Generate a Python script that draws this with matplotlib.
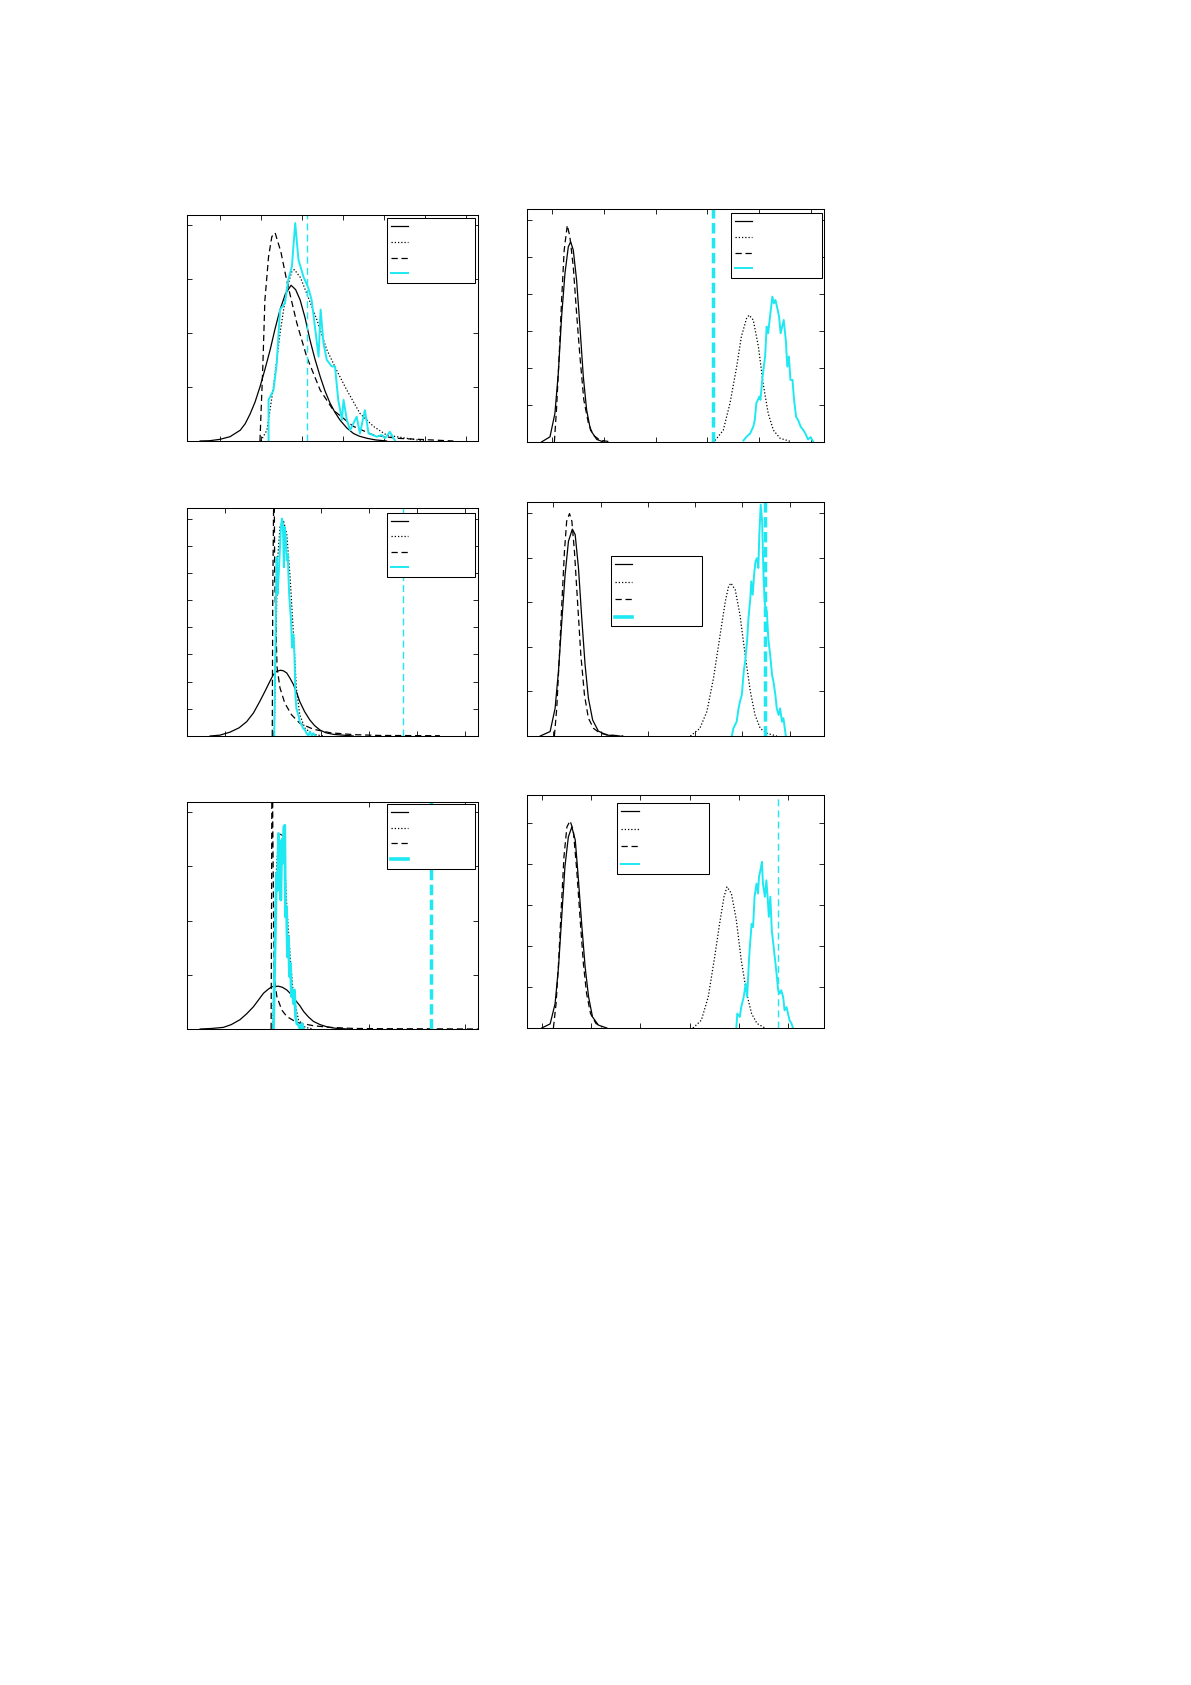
import numpy as np
import matplotlib.pyplot as plt
from matplotlib.lines import Line2D

CYAN = '#1ee8f2'

# ---- panel A (top left)
a_solid = [(-0.48, 0), (-0.25, 0.005), (0.0, 0.03), (0.25, 0.08), (0.5, 0.2), (0.62, 0.32), (0.74, 0.5),
           (0.86, 0.72), (0.98, 1.0), (1.1, 1.32), (1.23, 1.69), (1.35, 2.08), (1.47, 2.43), (1.6, 2.72),
           (1.74, 2.88), (1.85, 2.8), (1.96, 2.61), (2.08, 2.28), (2.2, 1.87), (2.32, 1.52), (2.45, 1.19),
           (2.57, 0.92), (2.69, 0.70), (2.81, 0.53), (2.93, 0.39), (3.1, 0.24), (3.26, 0.14), (3.4, 0.09),
           (3.59, 0.05), (3.8, 0.02), (4.07, 0.0)]
a_dotted = [(1.0, 0.0), (1.15, 0.2), (1.31, 1.0), (1.47, 1.99), (1.63, 2.8), (1.76, 3.14), (1.82, 3.17),
            (1.97, 3.02), (2.12, 2.73), (2.37, 2.24), (2.61, 1.69), (2.85, 1.31), (3.1, 0.94), (3.42, 0.51),
            (3.75, 0.27), (4.07, 0.11), (4.72, 0.03), (5.0, 0.0)]
a_dashed = [(0.98, 0), (1.05, 1.38), (1.1, 2.6), (1.19, 3.41), (1.27, 3.78), (1.35, 3.85), (1.49, 3.5),
            (1.63, 2.98), (1.88, 2.18), (2.12, 1.56), (2.45, 0.94), (2.77, 0.57), (3.26, 0.27), (3.75, 0.11),
            (4.32, 0.05), (5.7, 0.0)]
a_cyan = [(1.19, 0.0), (1.19, 0.76), (1.31, 0.94), (1.39, 1.44), (1.47, 2.43), (1.59, 2.55), (1.67, 2.98),
          (1.76, 3.23), (1.84, 4.03), (1.92, 3.35), (2.04, 3.04), (2.16, 2.83), (2.24, 2.61), (2.33, 2.06),
          (2.41, 1.56), (2.46, 2.43), (2.53, 1.81), (2.61, 1.5), (2.73, 1.38), (2.81, 1.38), (2.89, 0.76),
          (2.98, 0.39), (3.02, 0.76), (3.1, 0.39), (3.18, 0.2), (3.34, 0.45), (3.42, 0.14), (3.54, 0.57),
          (3.63, 0.14), (3.83, 0.08), (3.95, 0.11), (4.03, 0.05), (4.15, 0.17), (4.28, 0.0)]

# ---- panel B (top right)
b_solid = [(-0.21, 0), (-0.045, 0.14), (0.05, 0.77), (0.116, 1.86), (0.18, 3.39), (0.245, 4.56),
           (0.31, 5.28), (0.355, 5.41), (0.406, 5.19), (0.47, 4.38), (0.535, 3.12), (0.6, 1.77),
           (0.665, 0.86), (0.74, 0.32), (0.86, 0.07), (0.99, 0.0)]
b_dotted = [(3.15, 0.04), (3.31, 0.32), (3.44, 1.05), (3.57, 2.04), (3.66, 2.85), (3.76, 3.34),
            (3.81, 3.43), (3.89, 3.3), (3.99, 2.58), (4.08, 1.59), (4.18, 0.77), (4.28, 0.32),
            (4.41, 0.1), (4.6, 0.02)]
b_dashed = [(0.04, 0), (0.084, 0.95), (0.135, 2.4), (0.18, 3.84), (0.23, 5.19), (0.29, 5.86),
            (0.34, 5.55), (0.406, 4.74), (0.47, 3.48), (0.535, 2.31), (0.61, 1.14), (0.7, 0.5),
            (0.79, 0.19), (0.92, 0.05), (1.15, 0.0)]
b_cyan = [(3.7, 0.04), (3.76, 0.14), (3.83, 0.23), (3.89, 0.41), (3.92, 0.59), (3.95, 1.05), (4.01, 1.23),
          (4.03, 1.14), (4.07, 1.77), (4.12, 2.31), (4.15, 3.12), (4.18, 2.94), (4.2, 3.21), (4.23, 3.57),
          (4.26, 3.93), (4.29, 3.75), (4.32, 3.84), (4.35, 3.66), (4.39, 3.39), (4.42, 2.94), (4.45, 3.12),
          (4.48, 3.3), (4.52, 2.76), (4.55, 2.04), (4.58, 2.31), (4.61, 1.68), (4.65, 1.68), (4.68, 1.14),
          (4.72, 0.68), (4.76, 0.59), (4.81, 0.41), (4.86, 0.32), (4.9, 0.23), (4.95, 0.07), (5.0, 0.13),
          (5.05, 0.01)]

# ---- panel C (middle left)
c_solid = [(-0.3, 0), (-0.1, 0.03), (0.11, 0.14), (0.3, 0.3), (0.46, 0.53), (0.6, 0.85), (0.73, 1.27),
           (0.84, 1.65), (0.94, 2.01), (1.01, 2.25), (1.08, 2.38), (1.16, 2.42), (1.22, 2.4), (1.29, 2.32),
           (1.36, 2.12), (1.43, 1.89), (1.5, 1.58), (1.56, 1.27), (1.66, 0.9), (1.77, 0.59), (1.87, 0.38),
           (1.98, 0.22), (2.1, 0.12), (2.26, 0.06), (2.67, 0.0)]
c_dotted = [(1.03, 0.01), (1.07, 3.99), (1.1, 6.46), (1.15, 7.69), (1.22, 7.94), (1.29, 7.44), (1.36, 5.84),
            (1.43, 3.74), (1.49, 1.77), (1.56, 0.78), (1.67, 0.28), (1.84, 0.06), (2.05, 0.0)]
c_dashed = [(0.99, 0), (1.0, 5.22), (1.02, 8.93), (1.025, 11.4), (1.04, 5.84), (1.07, 3.74), (1.09, 2.51),
            (1.15, 1.77), (1.25, 1.21), (1.39, 0.78), (1.56, 0.47), (1.84, 0.25), (2.19, 0.12),
            (2.67, 0.05), (3.22, 0.02), (4.47, 0.01)]
c_cyan = [(1.03, 0.01), (1.06, 3.99), (1.08, 6.58), (1.1, 5.22), (1.12, 5.84), (1.15, 6.95), (1.17, 7.69),
          (1.19, 8.0), (1.21, 7.81), (1.23, 6.21), (1.25, 7.69), (1.27, 7.32), (1.29, 6.46), (1.31, 6.7),
          (1.34, 5.22), (1.38, 4.23), (1.4, 3.25), (1.43, 3.74), (1.45, 3.0), (1.47, 1.52), (1.49, 1.02),
          (1.53, 0.78), (1.56, 0.53), (1.6, 0.41), (1.63, 0.28), (1.67, 0.22), (1.7, 0.1), (1.74, 0.01),
          (1.77, 0.16), (1.81, 0.01), (1.84, 0.1), (1.88, 0.01)]

# ---- panel D (middle right)
d_solid = [(-0.28, 0), (-0.07, 0.1), (0.035, 0.62), (0.106, 1.45), (0.177, 2.57), (0.247, 3.62),
           (0.318, 4.37), (0.40, 4.64), (0.46, 4.52), (0.53, 3.77), (0.6, 2.64), (0.67, 1.6), (0.74, 0.85),
           (0.83, 0.36), (0.95, 0.11), (1.13, 0.02), (1.41, 0.0)]
d_dotted = [(2.9, 0), (3.1, 0.17), (3.25, 0.55), (3.39, 1.3), (3.53, 2.27), (3.64, 3.02), (3.71, 3.36),
            (3.76, 3.43), (3.85, 3.28), (3.95, 2.72), (4.06, 1.82), (4.17, 1.0), (4.27, 0.47),
            (4.38, 0.17), (4.52, 0.06), (4.73, 0.0)]
d_dashed = [(0.02, 0), (0.07, 0.62), (0.127, 1.82), (0.18, 3.02), (0.233, 4.14), (0.28, 4.82), (0.34, 4.99),
            (0.39, 4.82), (0.445, 4.14), (0.51, 3.02), (0.58, 1.82), (0.657, 0.92), (0.74, 0.4),
            (0.85, 0.17), (0.99, 0.06), (1.2, 0.02), (1.48, 0.0)]
d_cyan = [(3.78, 0.01), (3.81, 0.17), (3.88, 0.32), (3.92, 0.62), (3.95, 0.77), (3.99, 0.92), (4.03, 1.45),
          (4.06, 1.67), (4.1, 2.12), (4.13, 2.64), (4.17, 3.09), (4.19, 3.47), (4.22, 3.17), (4.25, 3.62),
          (4.28, 3.92), (4.31, 3.99), (4.34, 3.77), (4.36, 4.52), (4.39, 5.19), (4.42, 4.82), (4.45, 3.54),
          (4.48, 2.94), (4.52, 2.79), (4.55, 2.19), (4.59, 1.82), (4.63, 1.37), (4.66, 1.22), (4.7, 0.92),
          (4.73, 0.62), (4.77, 0.47), (4.8, 0.62), (4.84, 0.32), (4.87, 0.4), (4.89, 0.25), (4.92, 0.01)]

# ---- panel E (bottom left)
e_solid = [(-0.74, 0), (-0.62, 0.01), (-0.5, 0.03), (-0.42, 0.08), (-0.33, 0.17), (-0.26, 0.28),
           (-0.19, 0.41), (-0.14, 0.53), (-0.086, 0.66), (-0.04, 0.73), (0.0, 0.78), (0.069, 0.79),
           (0.11, 0.77), (0.155, 0.72), (0.2, 0.64), (0.24, 0.54), (0.29, 0.43), (0.33, 0.32), (0.38, 0.22),
           (0.43, 0.14), (0.5, 0.08), (0.57, 0.04), (0.65, 0.015), (0.78, 0.0)]
e_dotted = [(0.01, 0), (0.028, 1.33), (0.045, 2.87), (0.069, 3.55), (0.103, 3.61), (0.131, 3.18),
            (0.155, 2.26), (0.19, 1.33), (0.224, 0.6), (0.276, 0.17), (0.345, 0.03), (0.431, 0.0)]
e_dashed = [(-0.007, 0), (-0.003, 1.95), (0.0, 4.19), (0.003, 8.1), (0.01, 3.79), (0.024, 0.97),
            (0.052, 0.6), (0.103, 0.35), (0.155, 0.23), (0.259, 0.12), (0.431, 0.06), (0.603, 0.03),
            (0.845, 0.01), (1.12, 0.006), (2.16, 0.0)]
e_cyan = [(0.017, 0), (0.028, 0.97), (0.038, 1.95), (0.048, 2.87), (0.059, 2.56), (0.069, 3.61),
          (0.079, 2.93), (0.086, 3.3), (0.093, 2.38), (0.103, 3.49), (0.114, 3.06), (0.124, 3.73),
          (0.134, 3.76), (0.141, 2.07), (0.152, 2.26), (0.162, 1.33), (0.172, 1.7), (0.183, 0.97),
          (0.193, 1.21), (0.203, 0.6), (0.214, 0.72), (0.224, 0.47), (0.234, 0.72), (0.245, 0.23),
          (0.259, 0.1), (0.276, 0.07), (0.293, 0), (0.31, 0.1), (0.328, 0)]

# ---- panel F (bottom right)
f_solid = [(0.0, 0), (0.17, 0.1), (0.27, 0.59), (0.34, 1.49), (0.405, 2.71), (0.47, 3.93), (0.54, 4.66),
           (0.61, 4.9), (0.68, 4.58), (0.74, 3.68), (0.81, 2.54), (0.88, 1.49), (0.95, 0.76), (1.03, 0.27),
           (1.15, 0.07), (1.32, 0.0)]
f_dotted = [(3.07, 0), (3.24, 0.19), (3.38, 0.76), (3.51, 1.73), (3.61, 2.54), (3.7, 3.2), (3.76, 3.44),
            (3.85, 3.28), (3.95, 2.63), (4.05, 1.65), (4.16, 0.84), (4.26, 0.35), (4.37, 0.11), (4.53, 0.0)]
f_dashed = [(0.236, 0), (0.29, 0.59), (0.34, 1.57), (0.39, 2.79), (0.45, 4.17), (0.51, 4.9), (0.574, 5.05),
            (0.64, 4.82), (0.71, 3.85), (0.78, 2.63), (0.845, 1.57), (0.91, 0.84), (0.99, 0.35),
            (1.1, 0.11), (1.22, 0.02)]
f_cyan = [(3.95, 0), (3.97, 0.35), (4.02, 0.27), (4.05, 0.51), (4.1, 0.76), (4.14, 1.08), (4.17, 0.76),
          (4.21, 1.73), (4.24, 2.22), (4.26, 2.54), (4.29, 2.46), (4.32, 3.2), (4.36, 3.52), (4.39, 3.28),
          (4.41, 3.68), (4.44, 3.85), (4.47, 4.05), (4.49, 3.52), (4.53, 3.2), (4.56, 3.6), (4.59, 3.11),
          (4.61, 2.71), (4.64, 3.2), (4.67, 2.38), (4.7, 2.06), (4.73, 1.73), (4.76, 1.41), (4.8, 0.92),
          (4.83, 0.84), (4.86, 0.92), (4.9, 0.76), (4.93, 0.43), (4.97, 0.51), (5.0, 0.35), (5.03, 0.19),
          (5.07, 0.11), (5.1, 0)]

vline_x = [2.13, 3.12, 3.71, 4.47, 1.645, 4.8]

panels = [(a_solid, a_dotted, a_dashed, a_cyan), (b_solid, b_dotted, b_dashed, b_cyan),
          (c_solid, c_dotted, c_dashed, c_cyan), (d_solid, d_dotted, d_dashed, d_cyan),
          (e_solid, e_dotted, e_dashed, e_cyan), (f_solid, f_dotted, f_dashed, f_cyan)]

# layout / style per panel
boxes = [(187, 215, 478, 441), (527, 209, 824, 442), (187, 508, 478, 736),
         (527, 502, 824, 736), (187, 802, 478, 1029), (527, 795, 824, 1028)]
xlims = [(-0.8, 6.3), (-0.49, 5.26), (-0.78, 5.26), (-0.56, 5.73), (-0.876, 2.13), (-0.3, 5.73)]
ylims = [4.18, 6.3, 8.39, 5.25, 4.19, 5.68]
n_xt = [7, 6, 6, 6, 3, 6]
vline_w = [1.0, 2.5, 1.0, 2.5, 2.5, 1.0]
cyan_w = [1.4, 1.4, 1.4, 1.4, 2.0, 1.4]
leg_cyan_w = [1.4, 1.4, 1.4, 2.6, 2.6, 1.4]
leg_pos = [(0.686, 0.985, 0.304), (0.686, 0.981, 0.306), (0.686, 0.979, 0.304),
           (0.282, 0.769, 0.306), (0.686, 0.990, 0.304), (0.304, 0.964, 0.308)]
leg_sp = [0.5, 0.5, 0.5, 0.68, 0.5, 0.68]

W, H = 1191, 1685
fig = plt.figure(figsize=(W / 100, H / 100), dpi=100)

for i, (solid, dotted, dashed, cyan) in enumerate(panels):
    l, t, r, b = boxes[i]
    ax = fig.add_axes([l / W, 1 - b / H, (r - l) / W, (b - t) / H])
    s = np.array(solid).T
    d = np.array(dotted).T
    k = np.array(dashed).T
    c = np.array(cyan).T
    ax.plot(s[0], s[1], color='k', lw=0.9)
    ax.plot(d[0], d[1], color='k', lw=0.9, linestyle=(0, (1, 1.6)))
    ax.plot(k[0], k[1], color='k', lw=0.9, linestyle=(0, (5, 3)))
    ax.plot(c[0], c[1], color=CYAN, lw=cyan_w[i])
    ax.axvline(vline_x[i], color=CYAN, lw=vline_w[i], linestyle=(0, (3, 1.3)) if vline_w[i] > 2 else (0, (5, 3)))
    ax.set_xlim(*xlims[i])
    ax.set_ylim(0, ylims[i])
    ax.set_xticks(range(n_xt[i]))
    ax.set_yticks(range(int(ylims[i]) + 1))
    ax.tick_params(direction='in', top=True, right=True, length=3.6, width=0.6,
                   labelbottom=False, labelleft=False)
    for sp in ax.spines.values():
        sp.set_linewidth(0.75)

    handles = [Line2D([], [], color='k', lw=0.9),
               Line2D([], [], color='k', lw=0.9, linestyle=(0, (1, 1.6))),
               Line2D([], [], color='k', lw=0.9, linestyle=(0, (5, 3))),
               Line2D([], [], color=CYAN, lw=leg_cyan_w[i])]
    x0, ytop, w = leg_pos[i]
    leg = ax.legend(handles, [' '] * 4, loc='upper left', bbox_to_anchor=(x0, ytop - 0.5, w, 0.5),
                    mode='expand', borderaxespad=0, fontsize=8, handlelength=1.6,
                    labelspacing=leg_sp[i], borderpad=0.35, fancybox=False, framealpha=1,
                    edgecolor='k')
    leg.get_frame().set_linewidth(0.75)

fig.savefig('out.png', dpi=100)
